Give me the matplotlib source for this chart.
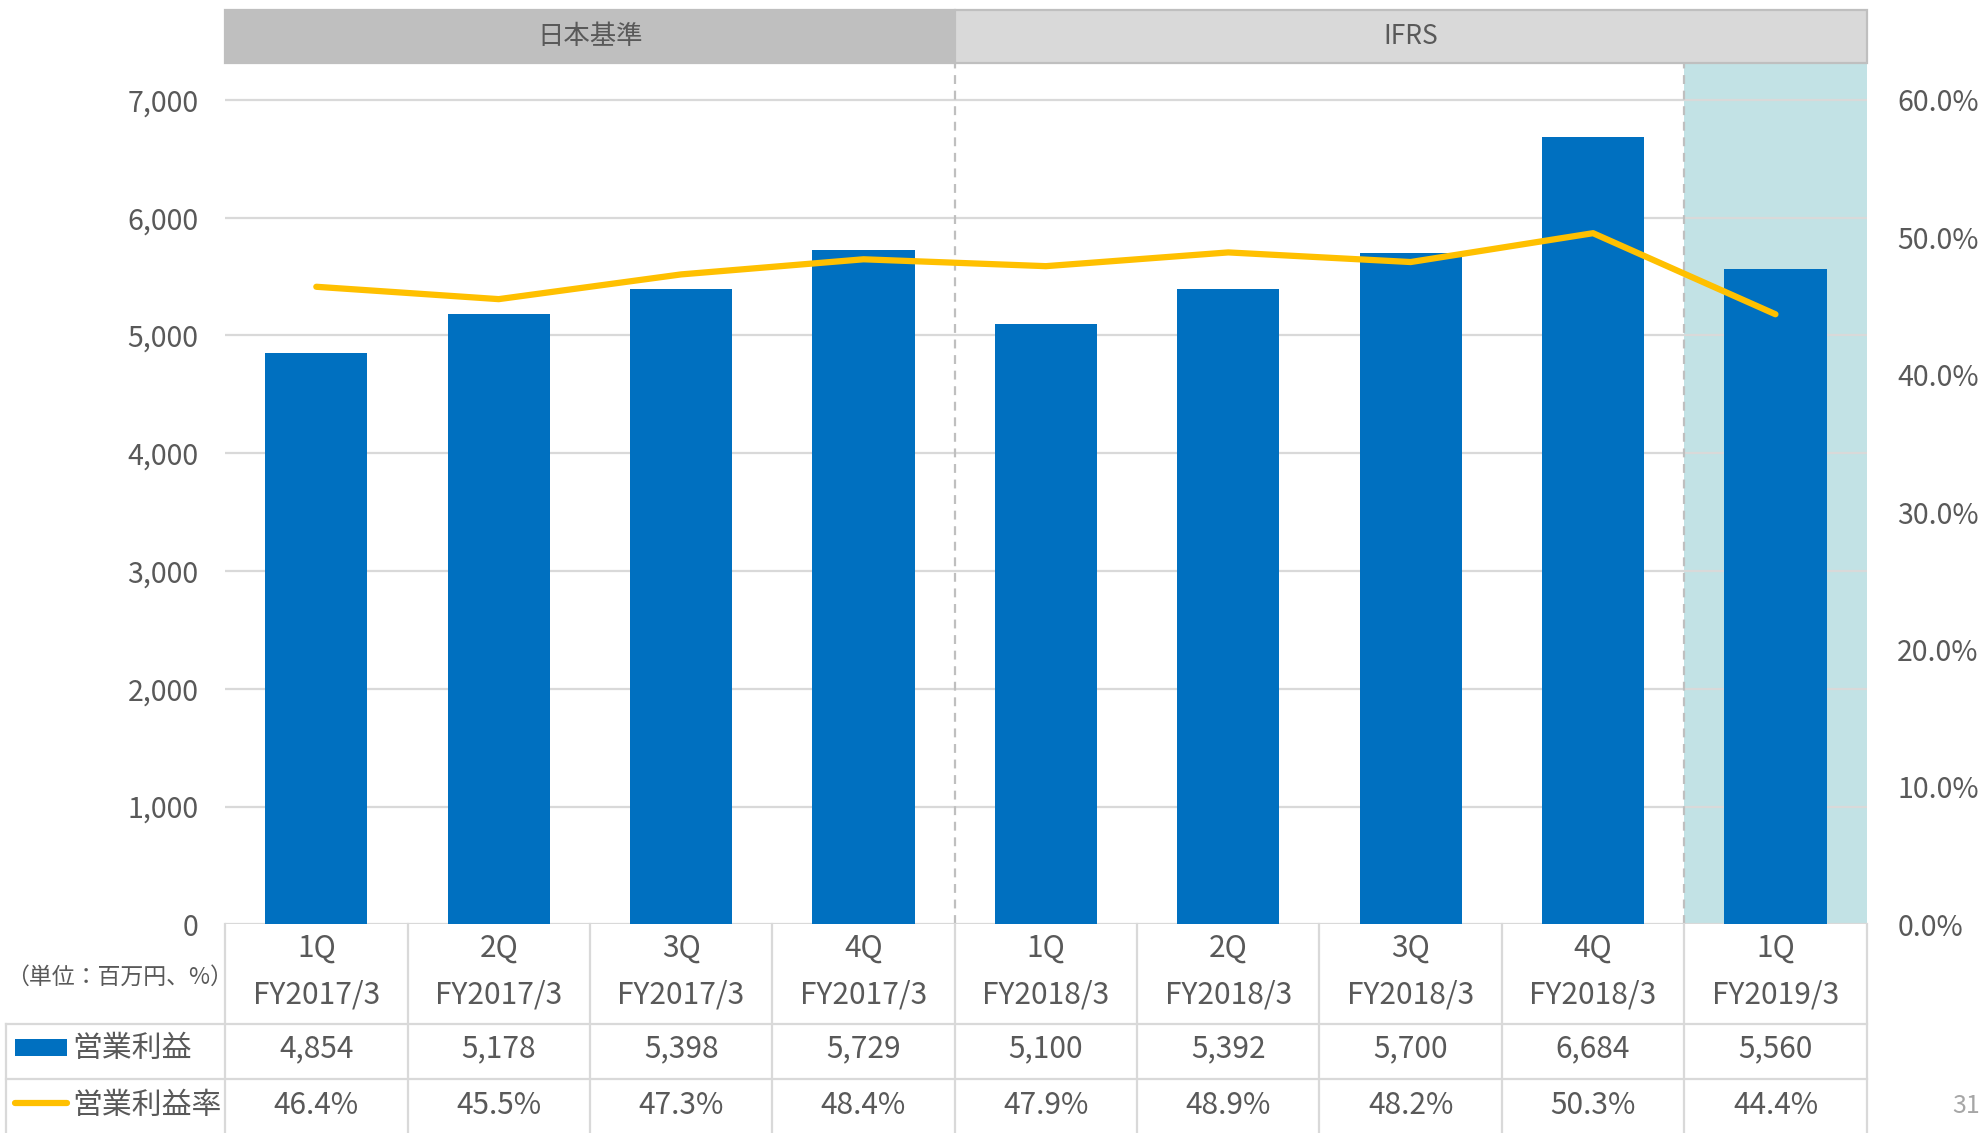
import matplotlib
matplotlib.use("Agg")
import matplotlib.pyplot as plt
from matplotlib.patches import Rectangle
import numpy as np

plt.rcParams['font.family'] = ['Noto Sans CJK JP', 'DejaVu Sans']

# ---------------- data ----------------
quarters = ["1Q", "2Q", "3Q", "4Q", "1Q", "2Q", "3Q", "4Q", "1Q"]
fiscal_years = ["FY2017/3", "FY2017/3", "FY2017/3", "FY2017/3",
                "FY2018/3", "FY2018/3", "FY2018/3", "FY2018/3", "FY2019/3"]
op_profit = [4854, 5178, 5398, 5729, 5100, 5392, 5700, 6684, 5560]
op_margin = [46.4, 45.5, 47.3, 48.4, 47.9, 48.9, 48.2, 50.3, 44.4]
left_ticks = [0, 1000, 2000, 3000, 4000, 5000, 6000, 7000]
right_ticks = [0, 10, 20, 30, 40, 50, 60]
standards = ["日本基準", "IFRS"]
standard_split = 3.5      # boundary between JGAAP and IFRS quarters
highlight_from = 7.5      # latest quarter shaded
row_labels = ["営業利益", "営業利益率"]
unit_label = "（単位：百万円、%）"

# ---------------- style ----------------
BLUE = "#0070C0"
YELLOW = "#FFC000"
TEAL = "#C2E2E5"
GRID = "#D9D9D9"
TXT = "#595959"
FS = 21.5

W, H = 1568, 896          # layout measured on a 1568x896 view
x_left, x_right = 178, 1476
y_zero, y_top_tick, y_head_bot, y_head_top = 731, 79, 50, 8

fig = plt.figure(figsize=(19.83, 11.33), dpi=100)
ax = fig.add_axes([x_left / W, 1 - y_zero / H, (x_right - x_left) / W,
                   (y_zero - y_head_bot) / H])
ax2 = ax.twinx()

n = len(op_profit)
x = np.arange(n)
stretch = (y_zero - y_head_bot) / (y_zero - y_top_tick)

ax.set_xlim(-0.5, n - 0.5)
ax.set_ylim(0, 7000 * stretch)
ax2.set_ylim(0, 60 * stretch)

ax.axvspan(highlight_from, n - 0.5, color=TEAL, zorder=0, lw=0)
for t in left_ticks:
    ax.axhline(t, color=GRID, lw=1.6, zorder=1)
ax.bar(x, op_profit, width=0.56, color=BLUE, zorder=2)
for xv in (standard_split, highlight_from):
    ax.axvline(xv, color="#BFBFBF", lw=1.6, ls=(0, (4, 3)), zorder=3)

ax2.plot(x, op_margin, color=YELLOW, lw=4.5, solid_capstyle="round", zorder=5)

ax.set_yticks(left_ticks)
ax.set_yticklabels([f"{t:,}" for t in left_ticks])
ax2.set_yticks(right_ticks)
ax2.set_yticklabels([f"{t:.1f}%" for t in right_ticks])
ax.set_xticks([])
for a in (ax, ax2):
    for s in a.spines.values():
        s.set_visible(False)
    a.tick_params(length=0, labelsize=20.5, labelcolor=TXT)
ax.tick_params(axis="y", pad=19)
ax2.tick_params(axis="y", pad=22)
ax.set_zorder(ax2.get_zorder() - 1)
ax2.patch.set_visible(False)

# ---------------- header band ----------------
axh = fig.add_axes([x_left / W, 1 - y_head_bot / H, (x_right - x_left) / W,
                    (y_head_bot - y_head_top) / H])
axh.set_xlim(-0.5, n - 0.5)
axh.set_ylim(0, 1)
axh.axis("off")
spans = [(-0.5, standard_split), (standard_split, n - 0.5)]
for (a, b), lab, fc in zip(spans, standards, ["#BFBFBF", "#D9D9D9"]):
    axh.add_patch(Rectangle((a, 0), b - a, 1, facecolor=fc,
                            edgecolor="#BFBFBF", lw=1.6, clip_on=False))
    axh.text((a + b) / 2, 0.5, lab, ha="center", va="center",
             fontsize=19, color=TXT)

# ---------------- data table ----------------
axt = fig.add_axes([x_left / W, 0, (x_right - x_left) / W, 1 - y_zero / H])
axt.set_xlim(-0.5, n - 0.5)
axt.set_ylim(0, H - y_zero)
axt.axis("off")
rows_y = [H - 810, H - 853]      # row boundaries
lab_x = -0.5 - (x_left - 5) / ((x_right - x_left) / n)

for b in np.arange(-0.5, n, 1.0):
    axt.plot([b, b], [0, H - y_zero], color=GRID, lw=1.6, clip_on=False)
axt.plot([lab_x, lab_x], [0, rows_y[0]], color=GRID, lw=1.6, clip_on=False)
for ry in rows_y:
    axt.plot([lab_x, n - 0.5], [ry, ry], color=GRID, lw=1.6, clip_on=False)

for i in range(n):
    axt.text(x[i], H - 750, quarters[i], ha="center", va="center",
             fontsize=FS, color=TXT)
    axt.text(x[i], H - 787, fiscal_years[i], ha="center", va="center",
             fontsize=FS, color=TXT)
    axt.text(x[i], H - 829, f"{op_profit[i]:,}", ha="center", va="center",
             fontsize=FS, color=TXT)
    axt.text(x[i], H - 874, f"{op_margin[i]:.1f}%", ha="center", va="center",
             fontsize=FS, color=TXT)

axt.text(lab_x, H - 773, unit_label, ha="left", va="center",
         fontsize=16.5, color=TXT, clip_on=False)
axt.add_patch(Rectangle((lab_x + 0.05, H - 835), 0.28, 13, facecolor=BLUE,
                        lw=0, clip_on=False))
axt.plot([lab_x + 0.05, lab_x + 0.33], [H - 872, H - 872], color=YELLOW,
         lw=4.5, solid_capstyle="round", clip_on=False)
axt.text(lab_x + 0.36, H - 829, row_labels[0], ha="left", va="center",
         fontsize=FS, color=TXT, clip_on=False)
axt.text(lab_x + 0.36, H - 874, row_labels[1], ha="left", va="center",
         fontsize=FS, color=TXT, clip_on=False)

# page number at the slide's right edge
fig.text(1566 / W, 1 - 875 / H, "31", ha="right", va="center",
         fontsize=18, color="#A6A6A6")

fig.savefig("out.png", dpi=100)
